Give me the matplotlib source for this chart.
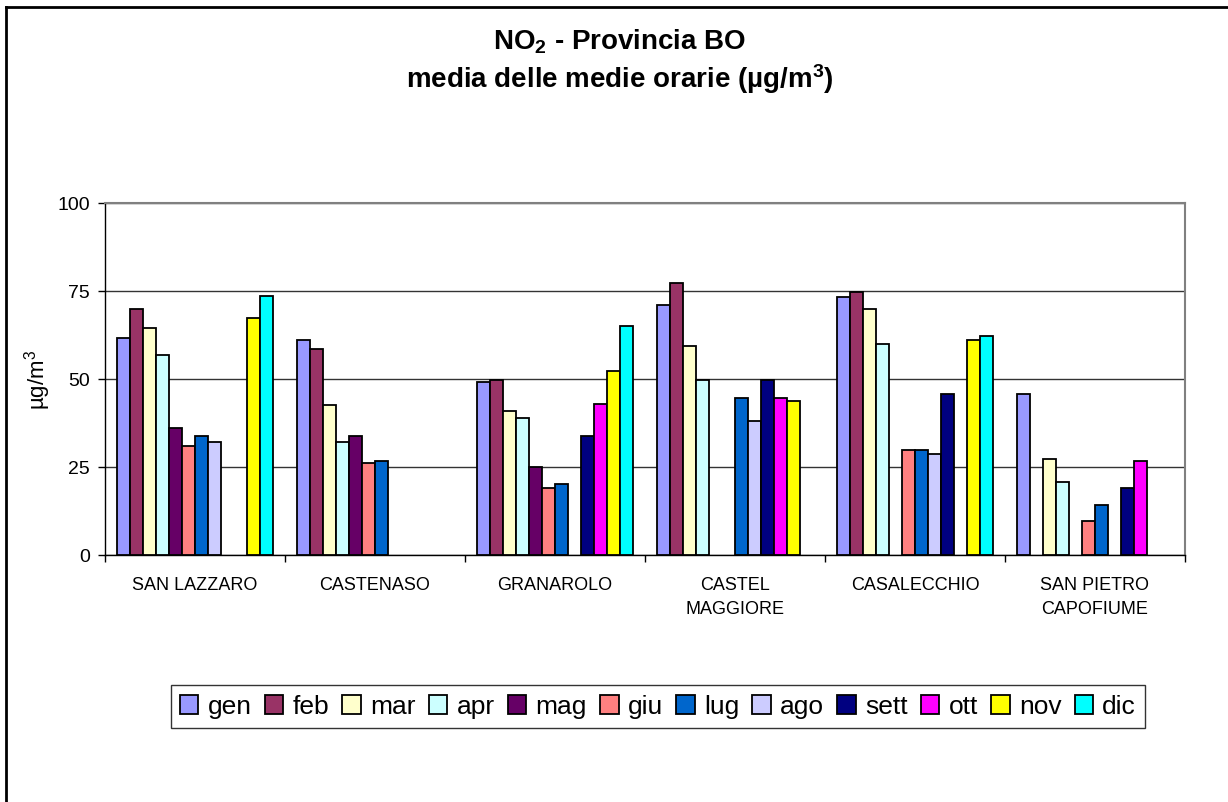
import numpy as np
import matplotlib
matplotlib.use("Agg")
import matplotlib.pyplot as plt
from matplotlib.lines import Line2D

plt.rcParams['font.family'] = ['Liberation Sans', 'DejaVu Sans']
plt.rcParams['mathtext.fontset'] = 'custom'
plt.rcParams['mathtext.rm'] = 'Liberation Sans:bold'
plt.rcParams['mathtext.it'] = 'Liberation Sans:bold'
plt.rcParams['mathtext.bf'] = 'Liberation Sans:bold'

nan = np.nan
stations = ["SAN LAZZARO", "CASTENASO", "GRANAROLO", "CASTEL\nMAGGIORE",
            "CASALECCHIO", "SAN PIETRO\nCAPOFIUME"]
months = ["gen", "feb", "mar", "apr", "mag", "giu", "lug", "ago",
          "sett", "ott", "nov", "dic"]
colors = ["#9999FF", "#993366", "#FFFFCC", "#CCFFFF", "#660066", "#FF8080",
          "#0066CC", "#CCCCFF", "#000080", "#FF00FF", "#FFFF00", "#00FFFF"]

# values per month across stations
gen  = [61.7, 61.1, 49.1, 71.0, 73.2, 45.8]
feb  = [70.0, 58.4, 49.6, 77.4, 74.8, nan]
mar  = [64.5, 42.5, 40.9, 59.5, 69.9, 27.3]
apr  = [56.9, 32.1, 38.8, 49.6, 60.0, 20.7]
mag  = [36.0, 33.8, 25.1, nan, nan, nan]
giu  = [31.1, 26.1, 19.0, nan, 29.9, 9.8]
lug  = [33.8, 26.6, 20.1, 44.6, 29.9, 14.1]
ago  = [32.1, nan, nan, 38.2, 28.8, nan]
sett = [nan, nan, 33.8, 49.6, 45.8, 19.1]
ott  = [nan, nan, 43.0, 44.6, nan, 26.6]
nov  = [67.2, nan, 52.4, 43.7, 61.1, nan]
dic  = [73.7, nan, 65.0, nan, 62.3, nan]
series = [gen, feb, mar, apr, mag, giu, lug, ago, sett, ott, nov, dic]

yticks = [0, 25, 50, 75, 100]

W, H = 1228, 803
fig = plt.figure(figsize=(W / 100, H / 100), dpi=100)
ax = fig.add_axes([105 / W, 1 - 556 / H, (1185 - 105) / W, (556 - 204) / H])

x = np.arange(len(stations))
bw = 156 / 12 / 180
for i, (vals, c, m) in enumerate(zip(series, colors, months)):
    ax.bar(x - 6 * bw + (i + 0.5) * bw, vals, width=bw, color=c,
           edgecolor="black", linewidth=1.3, label=m, zorder=3)

ax.set_xlim(-0.5, len(stations) - 0.5)
ax.set_ylim(0, 100)
ax.set_yticks(yticks)
ax.set_yticklabels([str(v) for v in yticks], fontsize=14)
ax.yaxis.grid(True, color="#333333", linewidth=1.0, zorder=0)
ax.set_axisbelow(True)

ax.set_xticks(x)
ax.set_xticklabels(stations, fontsize=13, linespacing=1.55)
ax.set_xticks(np.arange(-0.5, len(stations)), minor=True)
ax.tick_params(axis="x", which="major", length=0, pad=15)
ax.tick_params(axis="x", which="minor", length=5, width=1, direction="out")
ax.tick_params(axis="y", length=5, width=1, direction="out", pad=6)

for s in ["top", "right"]:
    ax.spines[s].set_color("#808080")
    ax.spines[s].set_linewidth(1.5)
for s in ["left", "bottom"]:
    ax.spines[s].set_color("black")
    ax.spines[s].set_linewidth(1.0)

fig.text(38 / W, 1 - 380 / H, r"µg/m$\mathregular{^3}$", rotation=90,
         fontsize=16, ha="center", va="center")

fig.text(620 / W, 1 - 42 / H, r"NO$_{2}$ - Provincia BO", fontsize=20,
         fontweight="bold", ha="center", va="center")
fig.text(620 / W, 1 - 79 / H, r"media delle medie orarie (µg/m$^{3}$)",
         fontsize=20, fontweight="bold", ha="center", va="center")

leg = fig.legend(loc="center", bbox_to_anchor=(658 / W, 1 - 707.5 / H),
                 ncol=12, fontsize=19, frameon=True, fancybox=False,
                 edgecolor="black", handlelength=0.7, handleheight=0.7,
                 handletextpad=0.35, columnspacing=0.5, borderpad=0.35,
                 borderaxespad=0)
leg.get_frame().set_linewidth(1.0)

# chart-area border (top and left visible)
fig.add_artist(Line2D([6 / W, 6 / W], [0, 1 - 8 / H], color="black",
                      linewidth=2, transform=fig.transFigure))
fig.add_artist(Line2D([6 / W, 1], [1 - 8 / H, 1 - 8 / H], color="black",
                      linewidth=2, transform=fig.transFigure))

fig.savefig("out.png", dpi=100)
